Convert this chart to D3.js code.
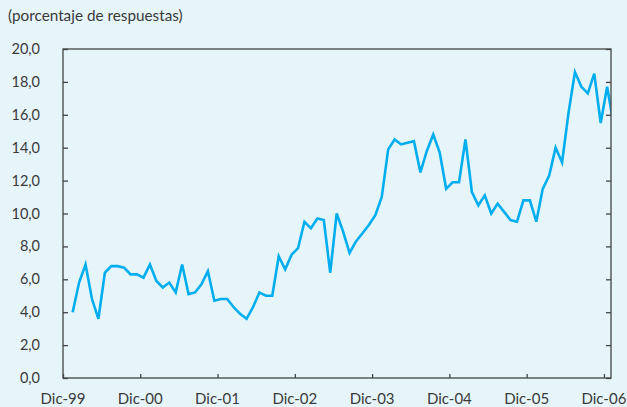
<!DOCTYPE html>
<html>
<head>
<meta charset="utf-8">
<script src="https://d3js.org/d3.v7.min.js"></script>
<style>
  body { margin: 0; background: #e6f5fa; }
  svg { display: block; font-family: Lato, "Open Sans", sans-serif; }
</style>
</head>
<body>
<div id="chart"></div>
<script>
// monthly series, Jan-00 .. Jan-07 (% of answers)
var values = [
  4.0, 5.8, 6.9, 4.8, 3.6, 6.4, 6.8, 6.8, 6.7, 6.3, 6.3, 6.1,
  6.9, 5.9, 5.5, 5.8, 5.2, 6.9, 5.1, 5.2, 5.7, 6.5, 4.7, 4.8,
  4.8, 4.3, 3.9, 3.6, 4.3, 5.2, 5.0, 5.0, 7.4, 6.6, 7.5, 7.9,
  9.5, 9.1, 9.7, 9.6, 6.4, 10.0, 8.9, 7.6, 8.3, 8.8, 9.3, 9.9,
  11.0, 13.9, 14.5, 14.2, 14.3, 14.4, 12.5, 13.8, 14.8, 13.7, 11.5, 11.9,
  11.9, 14.5, 11.3, 10.5, 11.1, 10.0, 10.6, 10.1, 9.6, 9.5, 10.8, 10.8,
  9.5, 11.5, 12.3, 14.0, 13.1, 16.1, 18.6, 17.7, 17.3, 18.5, 15.5, 17.7,
  15.4
];
var yTicks = [0, 2, 4, 6, 8, 10, 12, 14, 16, 18, 20];
var xTickLabels = ["Dic-99", "Dic-00", "Dic-01", "Dic-02", "Dic-03", "Dic-04", "Dic-05", "Dic-06"];
var unitLabel = "(porcentaje de respuestas)";

var width = 627, height = 407;
var plotL = 63, plotR = 611, plotT = 49, plotB = 378;

// x in months counted from the start of Dec-99; points sit mid-month
var x = d3.scaleLinear().domain([0, 85.1]).range([plotL, plotR]);
var y = d3.scaleLinear().domain([0, 20]).range([plotB, plotT]);

var svg = d3.select("#chart").append("svg")
    .attr("width", width)
    .attr("height", height);

svg.append("rect")
    .attr("width", width).attr("height", height)
    .attr("fill", "#e6f5fa");

svg.append("text")
    .attr("x", 8).attr("y", 21)
    .attr("font-size", 15.3)
    .attr("fill", "#3a3a3a")
    .text(unitLabel);

svg.append("clipPath").attr("id", "plot")
  .append("rect")
    .attr("x", plotL).attr("y", plotT)
    .attr("width", plotR - plotL).attr("height", plotB - plotT);

var line = d3.line()
    .x(function(d, i) { return x(i + 1.5); })
    .y(function(d) { return y(d); });

svg.append("path")
    .datum(values)
    .attr("clip-path", "url(#plot)")
    .attr("fill", "none")
    .attr("stroke", "#00aeef")
    .attr("stroke-width", 2.6)
    .attr("stroke-linejoin", "miter")
    .attr("d", line);

// frame
svg.append("rect")
    .attr("x", plotL).attr("y", plotT)
    .attr("width", plotR - plotL).attr("height", plotB - plotT)
    .attr("fill", "none")
    .attr("stroke", "#444")
    .attr("stroke-width", 1.3);

// inward ticks on left, right and bottom
var yAxisL = svg.append("g")
    .attr("transform", "translate(" + plotL + ",0)")
    .call(d3.axisRight(y).tickValues(yTicks).tickSize(5).tickFormat(""));
var yAxisR = svg.append("g")
    .attr("transform", "translate(" + plotR + ",0)")
    .call(d3.axisLeft(y).tickValues(yTicks).tickSize(5).tickFormat(""));
var xAxis = svg.append("g")
    .attr("transform", "translate(0," + plotB + ")")
    .call(d3.axisTop(x).tickValues(d3.range(0, 85, 12)).tickSize(4).tickFormat(""));

[yAxisL, yAxisR, xAxis].forEach(function(g) {
  g.select(".domain").remove();
  g.selectAll("line").attr("stroke", "#444").attr("stroke-width", 1.3);
});

svg.selectAll("text.ylab")
    .data(yTicks)
    .enter().append("text")
    .attr("class", "ylab")
    .attr("x", 40)
    .attr("y", function(d) { return y(d) + 5; })
    .attr("text-anchor", "end")
    .attr("font-size", 14.5)
    .attr("fill", "#3a3a3a")
    .text(function(d) { return d3.format(".1f")(d).replace(".", ","); });

svg.selectAll("text.xlab")
    .data(xTickLabels)
    .enter().append("text")
    .attr("class", "xlab")
    .attr("x", function(d, i) { return x(i * 12); })
    .attr("y", 404)
    .attr("text-anchor", "middle")
    .attr("font-size", 15)
    .attr("fill", "#3a3a3a")
    .text(function(d) { return d; });
</script>
</body>
</html>
